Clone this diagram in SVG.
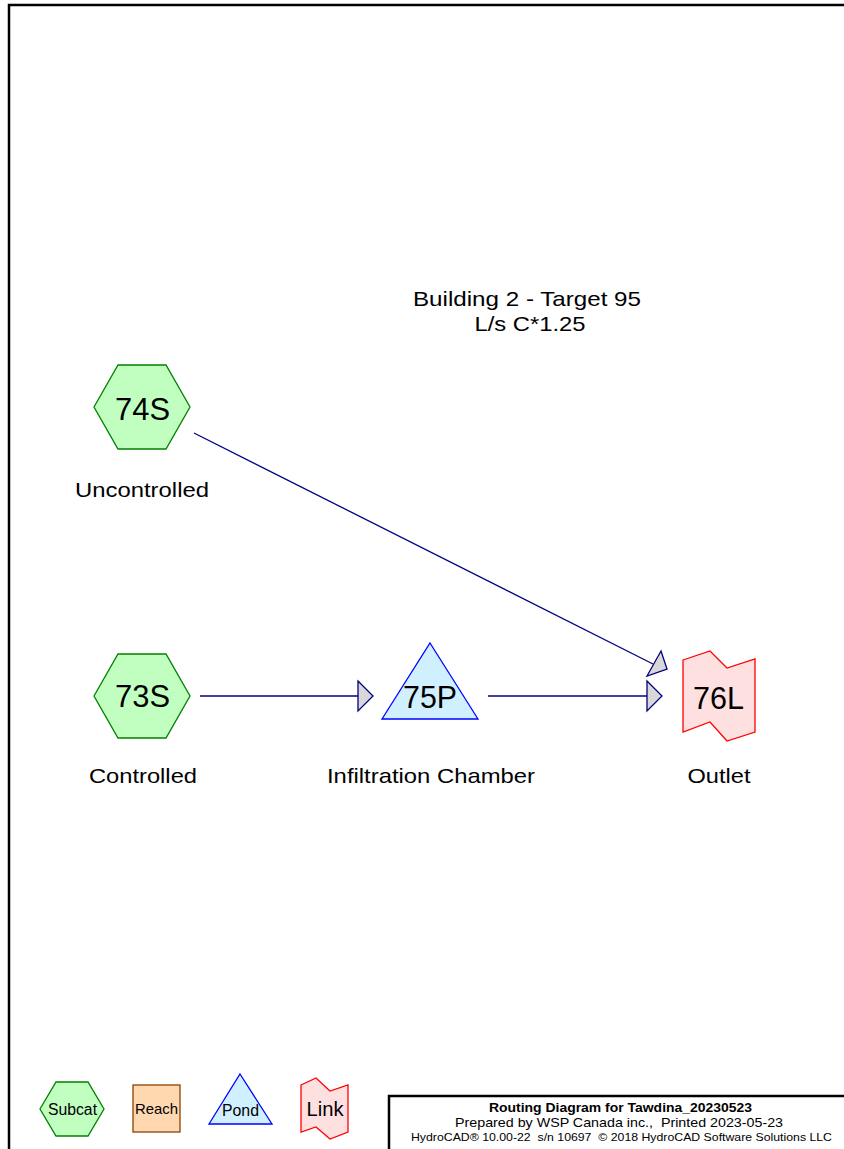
<svg xmlns="http://www.w3.org/2000/svg" width="844" height="1149" viewBox="0 0 844 1149">
<style>
text{font-family:"Liberation Sans",Arial,sans-serif;fill:#000;text-anchor:middle}
.subcat{fill:#c0ffc0;stroke:#008000;stroke-width:1.3}
.pond{fill:#d0f0ff;stroke:#0000ff;stroke-width:1.3}
.link{fill:#ffe0e0;stroke:#ff0000;stroke-width:1.3}
.reach{fill:#ffd8b0;stroke:#904000;stroke-width:1.3}
.id{font-size:32px}
.lbl{font-size:21px}
.edge{stroke:#000080;stroke-width:1.3;fill:none}
.head{fill:#d8d8d8;stroke:#000080;stroke-width:1.3}
</style>
<rect width="844" height="1149" fill="#fff"/>
<path d="M9,1149 V5 H844" fill="none" stroke="#000" stroke-width="2.5"/>
<text x="527" y="306" class="lbl" textLength="228" lengthAdjust="spacingAndGlyphs">Building 2 - Target 95</text>
<text x="530" y="331" class="lbl" textLength="111" lengthAdjust="spacingAndGlyphs">L/s C*1.25</text>
<g id="connectors">
<line class="edge" x1="194" y1="433" x2="653" y2="664"/>
<polygon class="head" points="661,651 667,669 647,676"/>
<line class="edge" x1="200" y1="696" x2="358" y2="696"/>
<polygon class="head" points="358,681 373,696 358,711"/>
<line class="edge" x1="488" y1="696" x2="647" y2="696"/>
<polygon class="head" points="647,681 662,696 647,711"/>
</g>
<g id="n74S">
<polygon class="subcat" points="94,407 118,365 166,365 190,407 166,449 118,449"/>
<text x="142.5" y="420" class="id" textLength="55" lengthAdjust="spacingAndGlyphs">74S</text>
<text x="142" y="497" class="lbl" textLength="134" lengthAdjust="spacingAndGlyphs">Uncontrolled</text>
</g>
<g id="n73S">
<polygon class="subcat" points="94,696 118,654 166,654 190,696 166,738 118,738"/>
<text x="142.5" y="707" class="id" textLength="55" lengthAdjust="spacingAndGlyphs">73S</text>
<text x="143" y="783" class="lbl" textLength="108" lengthAdjust="spacingAndGlyphs">Controlled</text>
</g>
<g id="n75P">
<polygon class="pond" points="430,643 478,719 382,719"/>
<text x="430" y="708" class="id" textLength="54" lengthAdjust="spacingAndGlyphs">75P</text>
<text x="431" y="783" class="lbl" textLength="208" lengthAdjust="spacingAndGlyphs">Infiltration Chamber</text>
</g>
<g id="n76L">
<polygon class="link" points="683,660 710,651 727,668 755,659 755,732 727,741 710,722 683,732"/>
<text x="718.5" y="709" class="id" textLength="51" lengthAdjust="spacingAndGlyphs">76L</text>
<text x="719" y="783" class="lbl" textLength="63" lengthAdjust="spacingAndGlyphs">Outlet</text>
</g>
<g id="legend">
<polygon class="subcat" points="40,1109 56,1082 88,1082 104,1109 88,1136 56,1136"/>
<text x="72.5" y="1115" font-size="16" textLength="49" lengthAdjust="spacingAndGlyphs">Subcat</text>
<rect class="reach" x="133" y="1085" width="47" height="47"/>
<text x="156.5" y="1114" font-size="15" textLength="43" lengthAdjust="spacingAndGlyphs">Reach</text>
<polygon class="pond" points="240,1074 272,1124 209,1124"/>
<text x="240.5" y="1116" font-size="16" textLength="37" lengthAdjust="spacingAndGlyphs">Pond</text>
<polygon class="link" points="301,1085 316,1078 330,1091 348,1085 348,1132 330,1139 316,1127 301,1132"/>
<text x="325" y="1116" font-size="20" textLength="37" lengthAdjust="spacingAndGlyphs">Link</text>
</g>
<g id="titleblock">
<path d="M389,1149 V1096 H844" fill="none" stroke="#000" stroke-width="2.5"/>
<text x="620.5" y="1112" font-size="13" font-weight="bold" textLength="263" lengthAdjust="spacingAndGlyphs">Routing Diagram for Tawdina_20230523</text>
<text x="619" y="1127" font-size="13.5" textLength="328" lengthAdjust="spacingAndGlyphs" xml:space="preserve">Prepared by WSP Canada inc.,  Printed 2023-05-23</text>
<text x="621.5" y="1141" font-size="11.5" textLength="421" lengthAdjust="spacingAndGlyphs" xml:space="preserve">HydroCAD® 10.00-22  s/n 10697  © 2018 HydroCAD Software Solutions LLC</text>
</g>
</svg>
